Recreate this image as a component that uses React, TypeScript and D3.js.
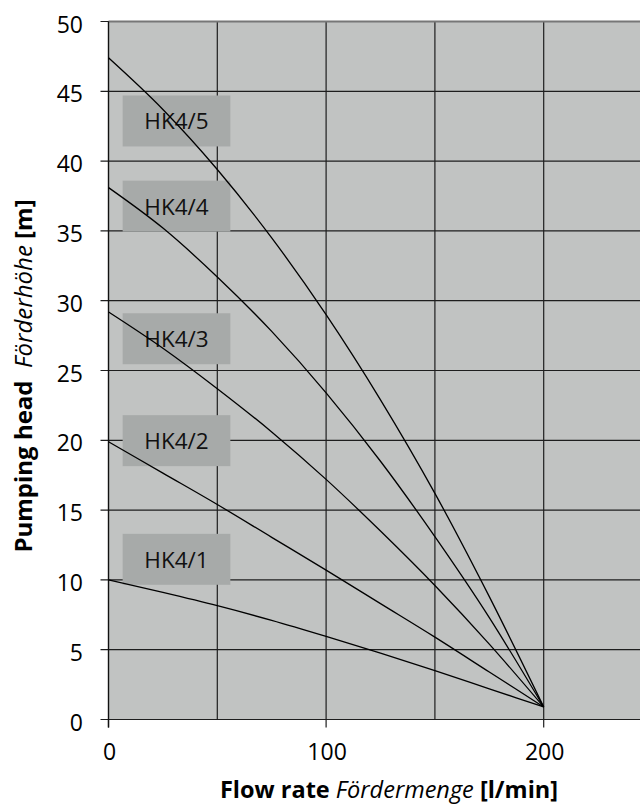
import React from 'react';
import * as d3 from 'd3';

// Förderkennlinien HK4/x, Werte
const flowSteps = [0, 25, 50, 75, 100, 125, 150, 175, 200];
const seriesNames = ['HK4/1', 'HK4/2', 'HK4/3', 'HK4/4', 'HK4/5'];
const headHK41 = [10.0, 9.1, 8.15, 7.1, 5.95, 4.75, 3.5, 2.2, 0.9];
const headHK42 = [19.9, 17.65, 15.4, 13.05, 10.7, 8.3, 5.9, 3.4, 0.9];
const headHK43 = [29.2, 26.6, 23.7, 20.6, 17.2, 13.5, 9.6, 5.4, 0.9];
const headHK44 = [38.1, 35.2, 31.7, 27.8, 23.4, 18.5, 13.1, 7.3, 0.9];
const headHK45 = [47.4, 43.7, 39.4, 34.5, 29.0, 22.9, 16.2, 8.8, 0.9];
const seriesHeads = [headHK41, headHK42, headHK43, headHK44, headHK45];

// Beschriftungskästen (obere Kante in m)
const labelTops = [13.3, 21.8, 29.1, 38.6, 44.7];
const labelHeight = 3.65;
const labelFrom = 6.5;
const labelTo = 56;

const xTicks = [0, 100, 200];
const xGrid = [50, 100, 150, 200];
const yTicks = [0, 5, 10, 15, 20, 25, 30, 35, 40, 45, 50];

const W = 640;
const H = 809;
const FONT = '"Open Sans", Lato, sans-serif';

export default function App() {
  const x = d3.scaleLinear().domain([0, 250]).range([108.5, 652.5]);
  const y = d3.scaleLinear().domain([0, 50]).range([719.5, 21.5]);

  const line = d3
    .line<[number, number]>()
    .x((d) => x(d[0]))
    .y((d) => y(d[1]))
    .curve(d3.curveMonotoneX);

  const [x0, x1] = x.range();
  const [yb, yt] = y.range();

  return (
    <div style={{ position: 'absolute', left: 0, top: 0 }}>
      <svg width={W} height={H} style={{ display: 'block', fontFamily: FONT }}>
        {/* Hintergrund */}
        <rect x={x0} y={yt} width={x1 - x0} height={yb - yt} fill="#c1c3c2" />

        {/* Gitter */}
        {yTicks.map((t) => (
          <line key={'gy' + t} x1={x0 - 8} x2={x1} y1={y(t)} y2={y(t)} stroke="#1e1e1e" strokeWidth={1.2} />
        ))}
        {xGrid.map((t) => (
          <line key={'gx' + t} x1={x(t)} x2={x(t)} y1={yt} y2={yb} stroke="#1e1e1e" strokeWidth={1.2} />
        ))}
        {xTicks.map((t) => (
          <line key={'tx' + t} x1={x(t)} x2={x(t)} y1={yb} y2={yb + 8} stroke="#1e1e1e" strokeWidth={1.2} />
        ))}
        <line x1={x0} x2={x1} y1={yt} y2={yt} stroke="#777" strokeWidth={2} />
        <line x1={x0} x2={x0} y1={yt} y2={yb + 8} stroke="#111" strokeWidth={1.4} />

        {/* Beschriftungskästen */}
        {seriesNames.map((name, i) => (
          <g key={'lb' + name}>
            <rect
              x={x(labelFrom)}
              y={y(labelTops[i])}
              width={x(labelTo) - x(labelFrom)}
              height={y(labelTops[i] - labelHeight) - y(labelTops[i])}
              fill="#a7aaa9"
            />
            <text
              x={(x(labelFrom) + x(labelTo)) / 2}
              y={y(labelTops[i] - labelHeight / 2)}
              textAnchor="middle"
              dominantBaseline="central"
              fontSize={22.5}
              fill="#111">
              {name}
            </text>
          </g>
        ))}

        {/* Kennlinien */}
        {seriesHeads.map((heads, i) => (
          <path
            key={'ln' + seriesNames[i]}
            d={line(flowSteps.map((q, j) => [q, heads[j]] as [number, number])) as string}
            fill="none"
            stroke="#000"
            strokeWidth={1.3}
          />
        ))}

        {/* Achsenbeschriftung */}
        {yTicks.map((t) => (
          <text key={'yl' + t} x={83} y={y(t) + 2} textAnchor="end" dominantBaseline="central" fontSize={23} fill="#000">
            {t}
          </text>
        ))}
        {xTicks.map((t) => (
          <text key={'xl' + t} x={x(t) + 1} y={751} textAnchor="middle" dominantBaseline="central" fontSize={23} fill="#000">
            {t}
          </text>
        ))}

        <text x={389} y={789} textAnchor="middle" dominantBaseline="central" fontSize={23.5} fill="#000">
          <tspan fontWeight="bold">Flow rate</tspan>
          <tspan fontStyle="italic"> Fördermenge</tspan>
          <tspan fontWeight="bold"> [l/min]</tspan>
        </text>
        <text
          transform={`translate(22, 376) rotate(-90)`}
          textAnchor="middle"
          dominantBaseline="central"
          fontSize={24}
          fill="#000"
          xmlSpace="preserve">
          <tspan fontWeight="bold">Pumping head</tspan>
          <tspan fontStyle="italic">{'  Förderhöhe'}</tspan>
          <tspan fontWeight="bold"> [m]</tspan>
        </text>
      </svg>
    </div>
  );
}
